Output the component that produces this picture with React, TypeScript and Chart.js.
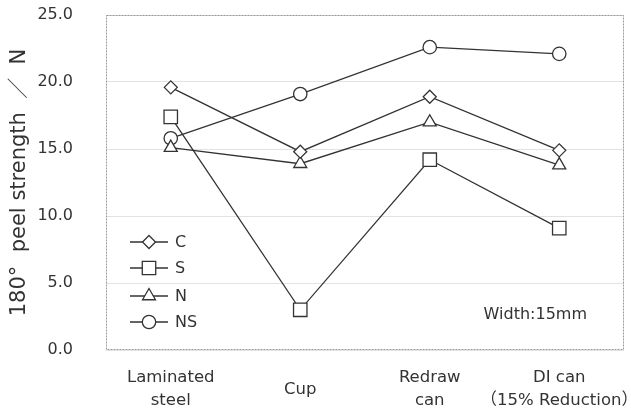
import React, { useEffect, useRef } from "react";
import { Chart, registerables } from "chart.js";

Chart.register(...registerables);

const categories: (string | string[])[] = [["Laminated", "steel"], "Cup", ["Redraw", "can"], ["DI can", "（15% Reduction）"]];
const seriesC = [19.6, 14.8, 18.9, 14.9];
const seriesS = [17.4, 3.0, 14.2, 9.1];
const seriesN = [15.1, 13.9, 17.0, 13.8];
const seriesNS = [15.8, 19.1, 22.6, 22.1];
const yTicks = [0, 5, 10, 15, 20, 25];
const yTitle = "180°  peel strength  ／  N";
const note = "Width:15mm";

const FONT = "'DejaVu Sans', 'Noto Sans CJK JP', sans-serif";
const INK = "#333333";

function drawMarker(ctx: CanvasRenderingContext2D, style: string, r: number, x: number, y: number) {
  ctx.beginPath();
  if (style === "rectRot") {
    ctx.moveTo(x, y - r);
    ctx.lineTo(x + r, y);
    ctx.lineTo(x, y + r);
    ctx.lineTo(x - r, y);
    ctx.closePath();
  } else if (style === "rect") {
    const s = Math.SQRT1_2 * r;
    ctx.rect(x - s, y - s, 2 * s, 2 * s);
  } else if (style === "triangle") {
    const side = (3 * r) / Math.sqrt(3);
    const h = (side * Math.sqrt(3)) / 2;
    ctx.moveTo(x - side / 2, y + h / 3);
    ctx.lineTo(x + side / 2, y + h / 3);
    ctx.lineTo(x, y - (2 * h) / 3);
    ctx.closePath();
  } else {
    ctx.arc(x, y, r, 0, Math.PI * 2);
  }
  ctx.fillStyle = "#ffffff";
  ctx.fill();
  ctx.strokeStyle = INK;
  ctx.lineWidth = 1.3;
  ctx.stroke();
}

const extras = {
  id: "extras",
  beforeDatasetsDraw(chart: any) {
    const { ctx, chartArea: a } = chart;
    ctx.save();
    ctx.strokeStyle = "#9a9a9a";
    ctx.lineWidth = 1;
    ctx.setLineDash([2, 1]);
    ctx.strokeRect(a.left + 0.5, a.top + 0.5, a.right - a.left - 1, a.bottom - a.top - 1);
    ctx.restore();
  },
  afterDraw(chart: any) {
    const { ctx, chartArea: a } = chart;
    ctx.save();
    const offsets = [108, 82, 54, 28];
    chart.data.datasets.forEach((ds: any, i: number) => {
      const y = a.bottom - offsets[i];
      ctx.strokeStyle = INK;
      ctx.lineWidth = 1.3;
      ctx.beginPath();
      ctx.moveTo(a.left + 24, y);
      ctx.lineTo(a.left + 62, y);
      ctx.stroke();
      drawMarker(ctx, ds.pointStyle, ds.pointRadius, a.left + 43, y);
      ctx.fillStyle = INK;
      ctx.font = `16px ${FONT}`;
      ctx.textAlign = "left";
      ctx.textBaseline = "middle";
      ctx.fillText(ds.label, a.left + 69, y + 1);
    });
    ctx.fillStyle = INK;
    ctx.font = `16px ${FONT}`;
    ctx.textAlign = "right";
    ctx.textBaseline = "middle";
    ctx.fillText(note, a.right - 37, a.bottom - 35);
    ctx.restore();
  },
};

export default function App() {
  const ref = useRef<HTMLCanvasElement>(null);
  useEffect(() => {
    const mk = (label: string, data: number[], pointStyle: string, pointRadius: number) => ({
      label,
      data,
      pointStyle,
      pointRadius,
      pointHoverRadius: pointRadius,
      borderColor: INK,
      borderWidth: 1.3,
      pointBorderColor: INK,
      pointBackgroundColor: "#ffffff",
      pointBorderWidth: 1.3,
      fill: false,
      tension: 0,
    });
    const chart = new Chart(ref.current!, {
      type: "line",
      data: {
        labels: categories,
        datasets: [
          mk("C", seriesC, "rectRot", 6.5),
          mk("S", seriesS, "rect", 9.5),
          mk("N", seriesN, "triangle", 7.5),
          mk("NS", seriesNS, "circle", 6.7),
        ],
      },
      options: {
        animation: false,
        responsive: false,
        devicePixelRatio: 1,
        layout: { autoPadding: false, padding: { top: 15, right: 7, left: 0, bottom: 0 } },
        plugins: { legend: { display: false }, tooltip: { enabled: false } },
        scales: {
          x: {
            offset: true,
            grid: { display: false, drawTicks: false },
            border: { display: false },
            ticks: {
              color: INK,
              font: { family: FONT, size: 16.5, lineHeight: 1.4 },
              padding: 28,
              crossAlign: "center",
              maxRotation: 0,
              autoSkip: false,
            },
            afterFit: (s: any) => {
              s.height = 60;
              s.paddingLeft = 0;
              s.paddingRight = 0;
            },
          },
          y: {
            min: 0,
            max: 25,
            afterBuildTicks: (s: any) => { s.ticks = yTicks.map((v) => ({ value: v })); },
            grid: { color: "#e2e2e2", drawTicks: false, lineWidth: 1 },
            border: { display: false },
            ticks: {
              color: INK,
              font: { family: FONT, size: 16 },
              padding: 33,
              callback: (v: any) => Number(v).toFixed(1),
            },
            title: {
              display: true,
              text: yTitle,
              color: INK,
              font: { family: FONT, size: 21 },
              padding: { top: 7, bottom: 0 },
            },
            afterFit: (s: any) => {
              s.width = 106;
              s.paddingTop = 0;
              s.paddingBottom = 0;
            },
          },
        },
      },
      plugins: [extras],
    });
    return () => chart.destroy();
  }, []);
  return (
    <div style={{ position: "absolute", left: 0, top: 0, width: 631, height: 410, background: "#fff" }}>
      <canvas ref={ref} width={631} height={410} />
    </div>
  );
}
